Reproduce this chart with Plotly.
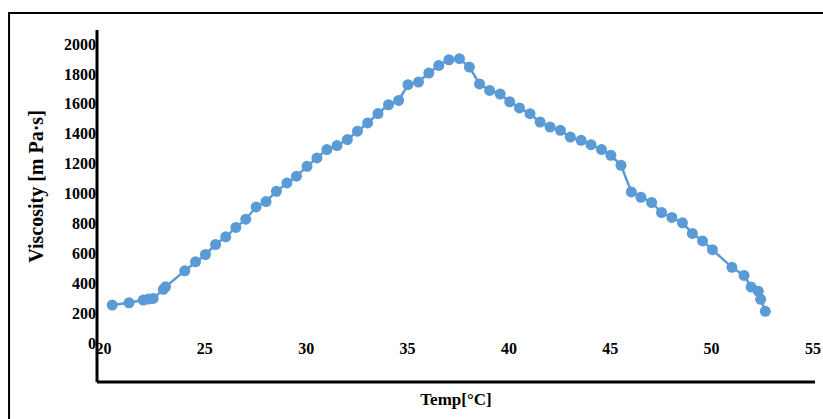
import plotly.graph_objects as go

temp = [20.43, 21.26, 21.96, 22.21, 22.45, 22.95, 23.06, 24.01, 24.54, 25.03, 25.53, 26.03,
        26.53, 27.02, 27.53, 28.02, 28.53, 29.05, 29.52, 30.04, 30.53, 31.02, 31.52, 32.03,
        32.53, 33.03, 33.54, 34.06, 34.56, 35.02, 35.54, 36.05, 36.54, 37.04, 37.56, 38.05,
        38.55, 39.05, 39.57, 40.04, 40.52, 41.04, 41.54, 42.03, 42.54, 43.03, 43.56, 44.05,
        44.57, 45.03, 45.53, 46.04, 46.51, 47.04, 47.53, 48.04, 48.56, 49.05, 49.55, 50.04,
        51.0, 51.6, 51.95, 52.3, 52.42, 52.65]
viscosity = [254, 269, 287, 294, 298, 359, 376, 483, 543, 592, 659, 710,
             773, 828, 910, 946, 1015, 1071, 1116, 1182, 1238, 1294, 1321, 1361,
             1417, 1472, 1535, 1594, 1623, 1728, 1746, 1806, 1857, 1895, 1902, 1846,
             1733, 1690, 1665, 1614, 1573, 1534, 1478, 1445, 1423, 1378, 1356, 1327,
             1294, 1256, 1189, 1011, 975, 940, 873, 840, 804, 733, 683, 624,
             506, 452, 374, 347, 292, 212]

x_ticks = [20, 25, 30, 35, 40, 45, 50, 55]
y_ticks = [0, 200, 400, 600, 800, 1000, 1200, 1400, 1600, 1800, 2000]

FONT = "Liberation Serif, Times New Roman, serif"
BLUE = "#5B9BD5"

fig = go.Figure()
fig.add_trace(go.Scatter(
    x=temp, y=viscosity, mode="lines+markers",
    line=dict(color=BLUE, width=2.5),
    marker=dict(color=BLUE, size=11),
    showlegend=False, cliponaxis=False,
))

fig.update_layout(
    width=823, height=419,
    margin=dict(l=97, r=8, t=30, b=37),
    paper_bgcolor="white", plot_bgcolor="white",
    font=dict(family=FONT, color="black", size=16, weight="bold"),
    xaxis=dict(
        range=[19.68, 55.1], tickvals=x_ticks, ticktext=[str(v) for v in x_ticks],
        showgrid=False, zeroline=False, showline=False, automargin=False,
        ticks="", ticklabelstandoff=-6,
        tickfont=dict(family=FONT, size=16, weight="bold", color="black"),
        title=dict(text="Temp[°C]", font=dict(family=FONT, size=17, weight="bold"), standoff=37),
    ),
    yaxis=dict(
        domain=[0.1108, 1], range=[0, 2094],
        tickvals=y_ticks, ticktext=[str(v) for v in y_ticks],
        showgrid=False, zeroline=False, showline=False, automargin=False,
        ticks="",
        tickfont=dict(family=FONT, size=16, weight="bold", color="black"),
        title=dict(text="Viscosity [m Pa·s]", font=dict(family=FONT, size=20, weight="bold"), standoff=14),
    ),
    shapes=[
        # y axis line
        dict(type="line", xref="paper", yref="paper", x0=0, x1=0, y0=0, y1=1,
             line=dict(color="black", width=3)),
        # x axis line
        dict(type="line", xref="paper", yref="paper", x0=0, x1=1, y0=0, y1=0,
             line=dict(color="black", width=3)),
        # outer frame
        dict(type="line", xref="paper", yref="paper", x0=-0.124, x1=1.02, y0=1.0483, y1=1.0483,
             line=dict(color="black", width=2)),
        dict(type="line", xref="paper", yref="paper", x0=-0.1225, x1=-0.1225, y0=1.0483, y1=-0.12,
             line=dict(color="black", width=2)),
    ],
)

fig.write_html(
    "out.html",
    config={"displayModeBar": False},
    post_script="document.body.style.margin='0';document.body.style.overflow='hidden';",
)
